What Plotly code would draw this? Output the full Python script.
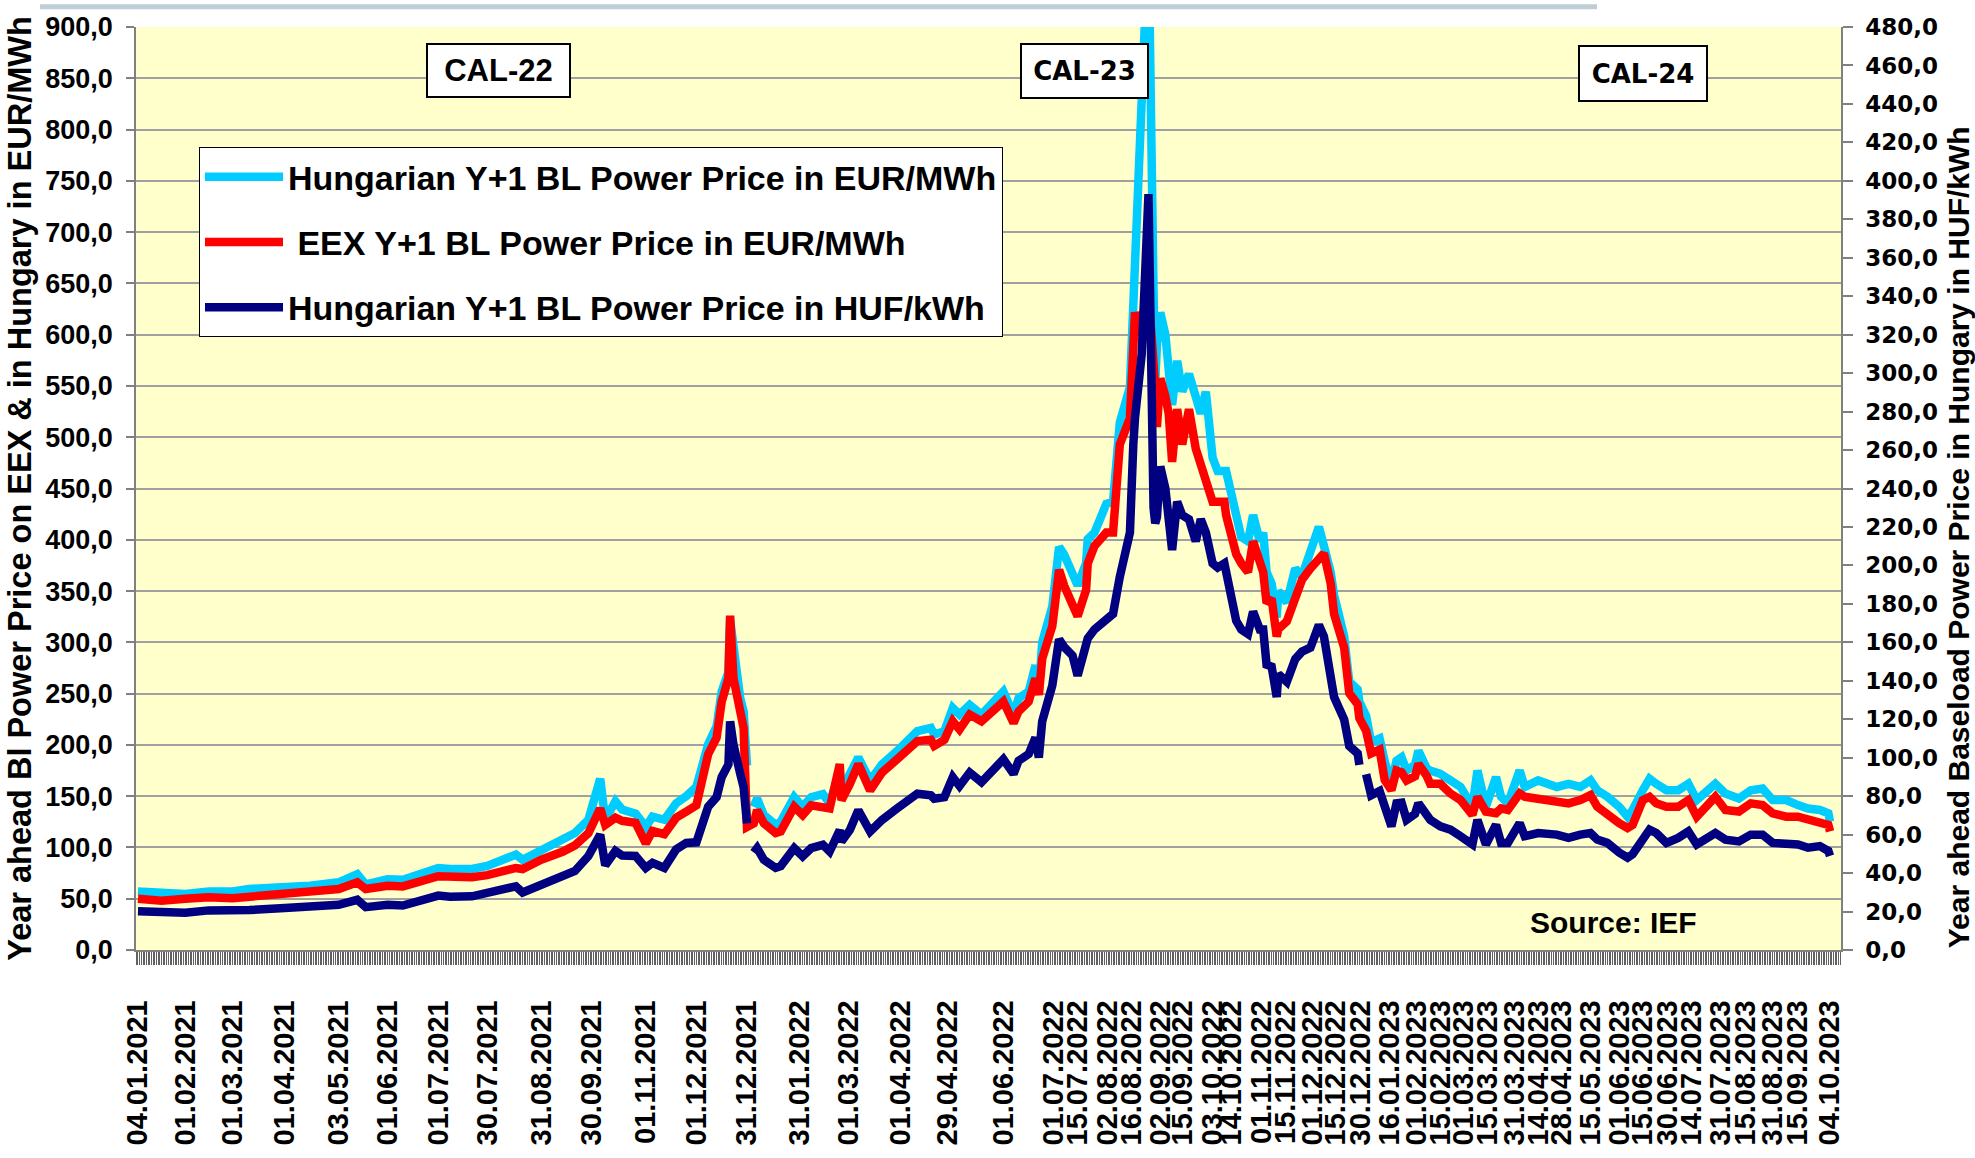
import plotly.graph_objects as go

# ---------------- data ----------------
dates = [
    "2021-01-04", "2021-01-18", "2021-02-01", "2021-02-15", "2021-03-01", "2021-03-11", "2021-04-01", "2021-04-16",
    "2021-05-03", "2021-05-14", "2021-05-19", "2021-06-01", "2021-06-10", "2021-07-01", "2021-07-08", "2021-07-21",
    "2021-07-30", "2021-08-16", "2021-08-20", "2021-08-31", "2021-09-13", "2021-09-20", "2021-09-28", "2021-10-05",
    "2021-10-08", "2021-10-14", "2021-10-18", "2021-10-26", "2021-11-01", "2021-11-05", "2021-11-12", "2021-11-19",
    "2021-11-25", "2021-12-01", "2021-12-08", "2021-12-13", "2021-12-16", "2021-12-20", "2021-12-21", "2021-12-23",
    "2021-12-27", "2021-12-29", "2021-12-31",
    "2022-01-04", "2022-01-06", "2022-01-10", "2022-01-17", "2022-01-20", "2022-01-28", "2022-02-02", "2022-02-07",
    "2022-02-14", "2022-02-18", "2022-02-24", "2022-02-25", "2022-03-02", "2022-03-07", "2022-03-14", "2022-03-21",
    "2022-03-30", "2022-04-11", "2022-04-19", "2022-04-21", "2022-04-27", "2022-05-02", "2022-05-06", "2022-05-12",
    "2022-05-19", "2022-06-01", "2022-06-07", "2022-06-10", "2022-06-16", "2022-06-20", "2022-06-22", "2022-06-24",
    "2022-06-30",
    "2022-07-04", "2022-07-07", "2022-07-12", "2022-07-15", "2022-07-20", "2022-07-21", "2022-07-25", "2022-08-01",
    "2022-08-05", "2022-08-09", "2022-08-15", "2022-08-17", "2022-08-18", "2022-08-22", "2022-08-25", "2022-08-26",
    "2022-08-29", "2022-08-30", "2022-08-31",
    "2022-09-02", "2022-09-05", "2022-09-07", "2022-09-09", "2022-09-12", "2022-09-15", "2022-09-19", "2022-09-23",
    "2022-09-26", "2022-09-29",
    "2022-10-03", "2022-10-06", "2022-10-10", "2022-10-11", "2022-10-17", "2022-10-20", "2022-10-24", "2022-10-27",
    "2022-10-31",
    "2022-11-02", "2022-11-04", "2022-11-07", "2022-11-10", "2022-11-11", "2022-11-16", "2022-11-21", "2022-11-25",
    "2022-11-30",
    "2022-12-05", "2022-12-08", "2022-12-12", "2022-12-14", "2022-12-20", "2022-12-23", "2022-12-28", "2022-12-29",
    "2023-01-02", "2023-01-05", "2023-01-10", "2023-01-13", "2023-01-17", "2023-01-20", "2023-01-23", "2023-01-26",
    "2023-01-31", "2023-02-02", "2023-02-07", "2023-02-09", "2023-02-15", "2023-02-21", "2023-02-27",
    "2023-03-06", "2023-03-09", "2023-03-14", "2023-03-20", "2023-03-23", "2023-03-27",
    "2023-04-03", "2023-04-06", "2023-04-14", "2023-04-25",
    "2023-05-02", "2023-05-09", "2023-05-15", "2023-05-19", "2023-05-25",
    "2023-06-01", "2023-06-06", "2023-06-09", "2023-06-15", "2023-06-19", "2023-06-23", "2023-06-29",
    "2023-07-06", "2023-07-12", "2023-07-17", "2023-07-21", "2023-07-28",
    "2023-08-03", "2023-08-11", "2023-08-18", "2023-08-25", "2023-08-31",
    "2023-09-08", "2023-09-15", "2023-09-21", "2023-09-28", "2023-10-03", "2023-10-04",
]

# Hungarian Y+1 BL power price, EUR/MWh (left axis)
hu_eur = [
    57, 55.6, 54.7, 57, 57, 59.5, 61, 62.7, 66, 74, 64, 69, 68.5, 80, 79, 79, 82, 93, 88, 98, 108, 114, 127, 167,
    127, 145, 137, 133, 120, 130, 127, 143, 150, 159, 200.6, 218, 252, 271, 322, 290, 245.5, 232.7, 180,
    139.6, 147.6, 131.5, 122, 125, 149, 139.6, 149, 152, 142.8, 174.9, 152, 171.7, 187.7, 165, 181, 194, 213.4,
    216.6, 210, 213.4, 236, 229.5, 239, 229.5, 252, 229.5, 245.5, 252, 277.6, 252, 300, 335,
    393, 385.6, 368.5, 355.5, 377, 400.6, 407, 435, 437, 514.4, 548.7, 621.7, 686, 815, 905, 990, 640, 553, 590,
    621.7, 600, 553, 531.5, 574.5, 544.5, 561.6, 535.8, 523, 544.5,
    480, 467, 467, 467, 424, 402.8, 398.5, 424, 398.5,
    407, 368.5, 357.3, 324.2, 350, 339, 372, 364.6, 386.7,
    412.5, 394, 368.3, 346.2, 305.7, 261.6, 254, 242,
    228.4, 202.6, 206.3, 184.2, 162, 184.6, 188, 175, 180.6, 194.2, 176.9, 175, 171.8, 165.4, 159,
    139.7, 175, 139.7, 168.6, 149.4, 143,
    175, 159, 165.4, 159,
    162, 159, 165.4, 155.8, 149.4,
    139.7, 130, 136.5, 155.8, 167, 162, 155.8,
    155.8, 162, 146.2, 152.6, 162,
    152.6, 147.8, 155.8, 157.4, 146.2,
    146.2, 141.3, 138, 136.5, 133.3, 125.3,
]

# EEX Y+1 BL power price, EUR/MWh (left axis)
eex_eur = [
    50, 48, 50, 51.4, 50.5, 52, 54.7, 56, 59.5, 66, 59.5, 62.7, 62, 72, 71, 71, 73, 80, 79, 88, 96, 102, 114, 138,
    122, 129, 126, 124, 104, 116, 113, 129, 135, 141, 191, 207, 242, 265, 326, 265, 232.7, 216.6, 120,
    123.5, 136.4, 123.5, 114, 115.5, 139.6, 131.5, 141, 139.6, 138, 181.3, 146, 162, 181.3, 155.6, 173, 186, 203.8,
    205, 199, 205, 223, 215, 229.5, 223, 242.3, 221.4, 232.7, 242.3, 264.8, 248.7, 284, 316,
    370.7, 355.3, 338.4, 325.5, 351, 377, 394, 407, 407, 493, 518.7, 574.5, 621.7, 600, 656, 640, 580, 548.7, 510,
    557.3, 540, 523, 476, 527.3, 493, 527.3, 489, 471.4, 455,
    437, 437, 437, 424, 386, 377, 368.5, 398.5, 373,
    368.5, 338.4, 342.6, 305.7, 313, 320.5, 342.6, 361, 372,
    383, 386.7, 357.3, 327.8, 294.7, 250.5, 239.5, 226,
    213.7, 191.6, 195.3, 165.8, 155.8, 175, 173.2, 165.4, 169.5, 181.4, 169.5, 162, 162, 152.6, 146.2,
    131.7, 149.4, 135, 133.3, 138, 136.5,
    152.6, 149.4, 147.8, 146.2,
    143, 146.2, 151, 139.7, 131.7,
    123.7, 119, 122, 146.2, 149.4, 143, 139.7,
    139.7, 146.2, 130, 136.5, 149.4,
    136.5, 135, 143, 141.3, 133.3,
    130, 130, 127, 125.3, 122, 115.7,
]

# Hungarian Y+1 BL power price, HUF/kWh (right axis)
hu_huf = [
    20.1, 19.4, 19.4, 20.6, 20.1, 20.8, 21.8, 22.1, 23.5, 26.1, 22.3, 23.5, 23.1, 28.3, 27.7, 27.9, 29.9, 33.1,
    29.9, 33.6, 38.4, 41.1, 48.9, 60.0, 44.1, 51.5, 49.1, 48.9, 42.7, 45.3, 42.7, 52.3, 55.7, 56.0, 74.5, 79.5,
    89.9, 96.5, 118.9, 106.7, 91.6, 84.7, 65.9,
    50.7, 53.0, 46.9, 42.7, 43.6, 53.0, 48.7, 53.0, 54.7, 51.2, 62.4, 56.4, 62.4, 72.7, 61.6, 67.6, 73.6, 81.3,
    80.4, 78.7, 79.5, 89.9, 85.3, 92.3, 87.3, 99.2, 91.6, 98.4, 101.9, 110.4, 100.1, 118.9, 137.6,
    161.6, 157.6, 153.1, 142.7, 157.6, 162.1, 166.7, 171.2, 174.8, 194.1, 217.1, 262.9, 276.6, 310, 377, 393.1,
    230, 221.9, 225,
    251.4, 240, 226.1, 208, 233.1, 226.1, 224, 212.5, 224, 217.1,
    201.1, 198.9, 201.1, 196.5, 171.2, 166.7, 164.3, 176, 166.7,
    166.7, 148.4, 147.4, 131.6, 143.5, 139.5, 151.3, 155.2, 157.2,
    169, 163, 143.5, 131.6, 119.8, 106.1, 102.2, 96.3,
    91.4, 80.5, 82.7, 74.7, 64.3, 76.3, 76.6, 67.7, 70.8, 76.3, 68.8, 67.7, 64.3, 62.6, 59.2,
    54.9, 67.7, 54.9, 65.1, 55.7, 55.7,
    66, 59.2, 60.8, 60,
    58.3, 60, 60.8, 57.4, 55.7,
    50.7, 48, 49.8, 57.4, 62.6, 60.8, 55.7,
    58.3, 61.7, 54.9, 57.4, 60.8,
    57.4, 56.5, 60, 60, 55.7,
    55.7, 54.9, 53.2, 54, 51.5, 48.9,
]

# contract roll-overs where a line is interrupted
hu_eur_breaks = ["2022-01-02"]
hu_huf_breaks = ["2022-01-02", "2023-01-01"]

series_names = [
    "Hungarian Y+1 BL Power Price in EUR/MWh",
    "\u00a0EEX Y+1 BL Power Price in EUR/MWh",
    "Hungarian Y+1 BL Power Price in HUF/kWh",
]

tick_dates = [
    "2021-01-04", "2021-02-01", "2021-03-01", "2021-04-01", "2021-05-03", "2021-06-01", "2021-07-01", "2021-07-30",
    "2021-08-31", "2021-09-30", "2021-11-01", "2021-12-01", "2021-12-31", "2022-01-31", "2022-03-01", "2022-04-01",
    "2022-04-29", "2022-06-01", "2022-07-01", "2022-07-15", "2022-08-02", "2022-08-16", "2022-09-02", "2022-09-15",
    "2022-10-03", "2022-10-14", "2022-11-01", "2022-11-15", "2022-12-01", "2022-12-15", "2022-12-30", "2023-01-16",
    "2023-02-01", "2023-02-15", "2023-03-01", "2023-03-15", "2023-03-31", "2023-04-14", "2023-04-28", "2023-05-15",
    "2023-06-01", "2023-06-15", "2023-06-30", "2023-07-14", "2023-07-31", "2023-08-15", "2023-08-31", "2023-09-15",
    "2023-10-04",
]
tick_labels = [
    "04.01.2021", "01.02.2021", "01.03.2021", "01.04.2021", "03.05.2021", "01.06.2021", "01.07.2021", "30.07.2021",
    "31.08.2021", "30.09.2021", "01.11.2021", "01.12.2021", "31.12.2021", "31.01.2022", "01.03.2022", "01.04.2022",
    "29.04.2022", "01.06.2022", "01.07.2022", "15.07.2022", "02.08.2022", "16.08.2022", "02.09.2022", "15.09.2022",
    "03.10.2022", "14.10.2022", "01.11.2022", "15.11.2022", "01.12.2022", "15.12.2022", "30.12.2022", "16.01.2023",
    "01.02.2023", "15.02.2023", "01.03.2023", "15.03.2023", "31.03.2023", "14.04.2023", "28.04.2023", "15.05.2023",
    "01.06.2023", "15.06.2023", "30.06.2023", "14.07.2023", "31.07.2023", "15.08.2023", "31.08.2023", "15.09.2023",
    "04.10.2023",
]

cal_labels = ["CAL-22", "CAL-23", "CAL-24"]
source_text = "Source: IEF"

# ---------------- figure ----------------
W, H = 1975, 1158
L, R, T, B = 136, 1841, 23, 960  # plot area in pixels
PW, PH = R - L, B - T


def px(x):
    return (x - L) / PW


def py(y):
    return (B - y) / PH


def with_breaks(xs, ys, breaks):
    pts = list(zip(xs, ys)) + [(b, None) for b in breaks]
    pts.sort(key=lambda p: p[0])
    return [p[0] for p in pts], [p[1] for p in pts]


ARIAL = "Liberation Sans, Arial, sans-serif"
VERDANA = "DejaVu Sans, Verdana, sans-serif"
LW = 8.5

fig = go.Figure()
x1, y1 = with_breaks(dates, hu_eur, hu_eur_breaks)
fig.add_trace(go.Scatter(x=x1, y=y1, name=series_names[0], mode="lines",
                         line=dict(color="#00CCFF", width=LW), connectgaps=False,
                         legendgroup="a"))
fig.add_trace(go.Scatter(x=dates, y=eex_eur, name=series_names[1], mode="lines",
                         line=dict(color="#FF0000", width=LW), legendgroup="b"))
x3, y3 = with_breaks(dates, hu_huf, hu_huf_breaks)
fig.add_trace(go.Scatter(x=x3, y=y3, name=series_names[2], mode="lines",
                         line=dict(color="#000080", width=LW), connectgaps=False,
                         yaxis="y2", legendgroup="c"))

fig.update_layout(
    width=W, height=H, autosize=False,
    margin=dict(l=L, r=W - R, t=T, b=H - B, pad=0),
    paper_bgcolor="white", plot_bgcolor="#FFFFCC",
    separators=",.",
    font=dict(family=ARIAL, color="black"),
    showlegend=True,
    legend=dict(
        x=px(199), y=py(145), xanchor="left", yanchor="top",
        bgcolor="white", bordercolor="black", borderwidth=1,
        font=dict(family=ARIAL, size=34, color="black", weight="bold"),
        tracegroupgap=18, itemwidth=78,
    ),
    xaxis=dict(
        type="date", range=["2021-01-02 20:00", "2023-10-10 12:00"],
        tickmode="array", tickvals=tick_dates, ticktext=tick_labels,
        tickangle=-90, tickfont=dict(family=ARIAL, size=29, color="black", weight="bold"),
        showgrid=False, zeroline=False,
        ticks="outside", ticklen=13, tickwidth=1, tickcolor="#606060",
        ticklabelstandoff=24,
        showline=True, linecolor="#808080", linewidth=1.5,
        minor=dict(tickmode="linear", tick0="2021-01-04", dtick=86400000,
                   ticks="outside", ticklen=13, tickwidth=1, tickcolor="#606060", showgrid=False),
    ),
    yaxis=dict(
        range=[0, 900], tick0=0, dtick=50, tickformat=".1f",
        tickfont=dict(family=ARIAL, size=27, color="black", weight="bold"),
        ticks="outside", ticklen=8, tickcolor="#808080", tickwidth=1.5,
        ticklabelstandoff=8,
        showline=True, linecolor="#808080", linewidth=1.5,
        showgrid=True, gridcolor="#A0A0A0", gridwidth=1.5, zeroline=False,
        title=dict(text="Year ahead Bl Power Price on EEX & in Hungary in EUR/MWh",
                   font=dict(family=ARIAL, size=32.5, color="black", weight="bold"), standoff=4),
    ),
    yaxis2=dict(
        overlaying="y", side="right", range=[0, 480], tick0=0, dtick=20, tickformat=".1f",
        tickfont=dict(family=VERDANA, size=23, color="black", weight="bold"),
        ticks="outside", ticklen=10, tickcolor="#808080", tickwidth=1.5,
        ticklabelstandoff=8,
        showline=True, linecolor="#808080", linewidth=1.5,
        showgrid=False, zeroline=False,
    ),
)

# right axis title (placed lower than centre, as in the original)
fig.add_annotation(text="Year ahead Baseload Power Price in Hungary in HUF/kWh",
                   xref="paper", yref="paper", x=px(1958), y=py(541),
                   xanchor="center", yanchor="middle",
                   textangle=-90, showarrow=False,
                   font=dict(family=ARIAL, size=30, color="black", weight="bold"))

# contract year boxes
cal_pos = [(498, 67, ARIAL, 31), (1084, 68, VERDANA, 26), (1643, 70, VERDANA, 26)]
cal_size = [(141, 51), (125, 52), (126, 53)]
for lab, (cx, cy, fam, fs), (bw, bh) in zip(cal_labels, cal_pos, cal_size):
    fig.add_annotation(text=lab, xref="paper", yref="paper", x=px(cx), y=py(cy),
                       xanchor="center", yanchor="middle",
                       showarrow=False, bgcolor="white", bordercolor="black", borderwidth=2,
                       borderpad=0, width=bw, height=bh,
                       font=dict(family=fam, size=fs, color="black", weight="bold"))

fig.add_annotation(text=source_text, xref="paper", yref="paper", x=px(1613), y=py(932),
                   xanchor="center", yanchor="middle",
                   showarrow=False, font=dict(family=ARIAL, size=30, color="black", weight="bold"))

# thin grey bar across the top of the slide
fig.add_shape(type="rect", xref="paper", yref="paper", x0=px(40), x1=px(1597), y0=py(5), y1=py(0),
              fillcolor="#BFCDD6", line=dict(width=0), layer="above")

fig.write_html("out.html", config={"displayModeBar": False},
               post_script="document.body.style.margin='0';document.body.style.overflow='hidden';")
